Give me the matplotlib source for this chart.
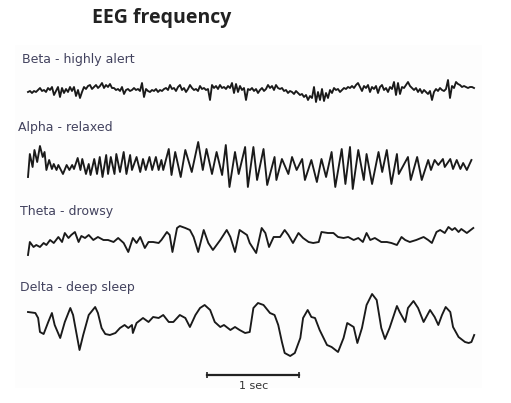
import numpy as np
import matplotlib
matplotlib.use("Agg")
import matplotlib.pyplot as plt

# --- data ------------------------------------------------------------------
# amplitudes in arbitrary units (1 unit ~ 1 pixel row of the scan), time in s

labels = ["Beta - highly alert", "Alpha - relaxed", "Theta - drowsy", "Delta - deep sleep"]

# beta is fast, read on a regular grid (46 samples per second)
beta_fs = 46
beta_amp = [
    -2, -1, -3, -1, -2, 0, 2, -1, 0, -2, 2, 0, 3, -5, -1, 3, -7, 2, -3, 1,
    -2, 3, -1, 3, -6, 0, -8, -2, 3, 1, 4, 5, 1, 3, 5, 2, 4, 7, 2, 5,
    3, 6, 2, 2, 0, 1, -1, 3, -4, 0, 1, -1, 0, 2, 0, 1, -1, 7, -7, 1,
    -1, -2, 0, -1, 1, -2, 0, -1, 1, 2, 0, 5, 1, 2, -1, 3, 5, 0, 2, -2,
    1, 5, 2, 0, 1, -1, 4, 1, 2, 0, 1, -10, 5, 2, 4, 1, 5, 2, 3, 1,
    4, 2, 7, -3, 6, -2, 4, 0, 2, -10, 1, 0, 2, -1, 1, -3, 0, 2, -1, 1,
    5, 2, 4, 0, 5, 2, 1, 2, -1, 0, -3, -1, -2, -4, -1, -3, -5, -4, -7, -5,
    -10, -6, -8, 3, -12, -2, -10, 1, -11, -3, -8, 0, -3, 2, 0, 1, -2, 0, 2, 1,
    3, 2, 4, 2, 5, 7, 3, -1, 4, 2, 5, -2, 3, 1, 4, -3, 3, 5, 0, 2,
    -2, 3, 1, 8, -5, 7, -4, 3, 2, 5, 8, 4, 2, 0, 2, -2, 1, -3, 0, -2,
    -4, -1, -10, -2, 1, -1, 2, 0, -1, 1, 10, -8, 4, 2, 8, 6, 5, 3, 4, 3,
    2, 3, 3, 2,
]

alpha_t = [
    0.00, 0.02, 0.05, 0.07, 0.10, 0.13, 0.16, 0.18, 0.20, 0.23, 0.26, 0.28, 0.31, 0.33,
    0.38, 0.42, 0.45, 0.48, 0.50, 0.54, 0.57, 0.59, 0.63, 0.66, 0.68, 0.72, 0.75, 0.78,
    0.81, 0.85, 0.87, 0.90, 0.94, 0.96, 1.00, 1.04, 1.07, 1.11, 1.13, 1.18, 1.22, 1.25,
    1.28, 1.32, 1.35, 1.39, 1.42, 1.45, 1.47, 1.53, 1.56, 1.60, 1.66, 1.71, 1.78, 1.85,
    1.90, 1.94, 2.00, 2.05, 2.11, 2.15, 2.19, 2.25, 2.29, 2.36, 2.39, 2.45, 2.49, 2.56,
    2.60, 2.68, 2.70, 2.76, 2.83, 2.87, 2.92, 2.98, 3.01, 3.08, 3.14, 3.19, 3.24, 3.30,
    3.34, 3.41, 3.45, 3.50, 3.53, 3.59, 3.65, 3.68, 3.74, 3.81, 3.85, 3.90, 3.95, 4.01,
    4.03, 4.13, 4.16, 4.23, 4.28, 4.35, 4.38, 4.42, 4.46, 4.51, 4.53, 4.59, 4.62, 4.66,
    4.70, 4.73, 4.77, 4.82,
]
alpha_amp = [
    -12, 11, -2, 15, 3, 19, 8, 13, -5, 5, -4, 1, -5, 0,
    -9, 0, -5, 0, -4, 7, -5, 6, -9, 1, -10, 6, -9, 8,
    -12, 10, -9, 8, -9, 11, -7, 13, -9, 10, -5, 8, -7, 6,
    -5, 8, -5, 8, -5, 5, -5, 16, -10, 13, -12, 15, -7, 23,
    -5, 16, -9, 13, -10, 20, -22, 13, -9, 18, -22, 18, -15, 16,
    -20, 8, -15, 6, -9, 8, -5, 6, -15, 5, -17, 6, -12, 13,
    -22, 16, -19, 18, -24, 15, -15, 11, -19, 13, -7, 15, -19, 11,
    -9, 8, -15, 8, -15, 5, -5, 5, 0, 6, -2, 6, -4, 5,
    -4, 2, -5, 5,
]

theta_t = [
    0.00, 0.02, 0.06, 0.09, 0.13, 0.17, 0.20, 0.24, 0.28, 0.33, 0.37, 0.40, 0.44, 0.47,
    0.51, 0.55, 0.58, 0.62, 0.66, 0.71, 0.76, 0.82, 0.87, 0.93, 0.98, 1.04, 1.09, 1.14,
    1.18, 1.22, 1.27, 1.31, 1.36, 1.42, 1.45, 1.51, 1.54, 1.57, 1.62, 1.65, 1.71, 1.76,
    1.80, 1.85, 1.91, 1.96, 2.01, 2.09, 2.16, 2.20, 2.25, 2.30, 2.38, 2.41, 2.48, 2.54,
    2.58, 2.62, 2.67, 2.74, 2.79, 2.83, 2.88, 2.94, 2.99, 3.05, 3.10, 3.16, 3.19, 3.26,
    3.32, 3.37, 3.43, 3.48, 3.54, 3.59, 3.64, 3.68, 3.72, 3.77, 3.84, 3.90, 3.95, 4.01,
    4.06, 4.10, 4.15, 4.22, 4.30, 4.35, 4.39, 4.44, 4.48, 4.53, 4.57, 4.61, 4.64, 4.68,
    4.71, 4.77, 4.84,
]
theta_amp = [
    -15, -2, -7, -5, -7, -3, -5, 0, -3, 3, -2, 7, 2, 5,
    8, -2, 4, 2, 5, 0, 3, 0, 0, -2, 2, -3, -12, 2,
    -3, 3, -8, -2, -2, -3, 0, 8, 5, -12, 12, 14, 12, 10,
    3, -12, 10, -3, -10, 0, 10, 3, -12, 10, 5, -3, -13, 12,
    7, -7, 3, 3, 10, 5, -3, 7, 2, -2, -3, -2, 8, 7,
    7, 3, 2, 3, 0, 2, -2, 7, 0, 2, -2, -2, -3, -5,
    3, 0, -2, 0, 3, 0, -3, 8, 10, 7, 13, 10, 12, 8,
    11, 7, 12,
]

delta_t = [
    0.00, 0.08, 0.11, 0.13, 0.17, 0.22, 0.26, 0.29, 0.35, 0.40, 0.46, 0.49, 0.53, 0.56,
    0.60, 0.66, 0.73, 0.76, 0.80, 0.84, 0.89, 0.95, 1.00, 1.05, 1.09, 1.13, 1.14, 1.18,
    1.25, 1.31, 1.36, 1.42, 1.47, 1.53, 1.58, 1.65, 1.71, 1.76, 1.82, 1.87, 1.92, 1.98,
    2.03, 2.09, 2.13, 2.20, 2.25, 2.30, 2.36, 2.41, 2.45, 2.50, 2.56, 2.63, 2.68, 2.72,
    2.76, 2.79, 2.85, 2.90, 2.96, 2.99, 3.04, 3.08, 3.12, 3.17, 3.25, 3.30, 3.37, 3.43,
    3.47, 3.54, 3.58, 3.63, 3.68, 3.74, 3.79, 3.84, 3.88, 3.93, 4.01, 4.04, 4.10, 4.13,
    4.19, 4.24, 4.30, 4.37, 4.42, 4.46, 4.50, 4.54, 4.59, 4.62, 4.68, 4.75, 4.79, 4.82,
    4.85,
]
delta_amp = [
    13, 12, 7, -7, -9, 3, 12, 0, -13, 3, 17, 10, -10, -25,
    -10, 10, 18, 12, -3, -9, -10, -8, -3, 0, -3, 0, -8, 2,
    7, 3, 8, 7, 10, 3, 3, 10, 7, -2, 10, 17, 20, 15,
    3, -2, 0, -5, -2, -5, -8, -7, 17, 22, 20, 12, 10, 0,
    -17, -28, -31, -28, -13, 7, 15, 8, 7, -5, -20, -22, -27, -13,
    2, -2, -18, -3, 20, 31, 25, -3, -14, -3, 19, 13, 3, 17,
    24, 17, 3, 15, 8, 0, 10, 18, 13, -2, -12, -17, -18, -17,
    -10,
]

scale_bar_s = 1.0

# --- layout (pixel rows of a 511 x 403 canvas, 92 px = 1 s) ----------------
px_per_s = 92
x0_px = 28
baselines = [90, 165, 240, 325]
label_pos = [(22, 59), (18, 127), (20, 211), (20, 288)]
bar_start_s = 1.95
bar_row = 375

beta_t = np.arange(len(beta_amp)) / beta_fs
traces = [
    (beta_t, np.array(beta_amp)),
    (np.array(alpha_t), np.array(alpha_amp)),
    (np.array(theta_t), np.array(theta_amp)),
    (np.array(delta_t), np.array(delta_amp)),
]

fig = plt.figure(figsize=(5.11, 4.03), dpi=100)
ax = fig.add_axes([0, 0, 1, 1])
ax.set_xlim(-x0_px / px_per_s, (511 - x0_px) / px_per_s)
ax.set_ylim(403, 0)
ax.axis("off")

# very faint scan background
ax.add_patch(plt.Rectangle(((15 - x0_px) / px_per_s, 45), 467 / px_per_s, 343,
                           facecolor="#fdfdfd", edgecolor="none", zorder=0))

for (t, a), base in zip(traces, baselines):
    ax.plot(t, base - a, color="#1a1a1a", lw=1.35, solid_joinstyle="round", zorder=2)

for text, (xp, yp) in zip(labels, label_pos):
    ax.text((xp - x0_px) / px_per_s, yp, text, fontsize=9, family="DejaVu Sans",
            color="#42425e", ha="left", va="center")

# 1 second scale bar
ax.plot([bar_start_s, bar_start_s + scale_bar_s], [bar_row, bar_row], color="#222222", lw=1.6)
ax.plot([bar_start_s, bar_start_s + scale_bar_s], [bar_row, bar_row], ls="none",
        marker="|", ms=4, mew=1.2, color="#222222")
ax.text(bar_start_s + scale_bar_s / 2, 386, "1 sec", fontsize=8, color="#333333",
        ha="center", va="center", family="DejaVu Sans")

fig.text(0.316, 0.955, "EEG frequency", fontsize=14, fontweight="bold",
         family="Open Sans", color="#222222", ha="center", va="center")

fig.savefig("out.png", dpi=100)
